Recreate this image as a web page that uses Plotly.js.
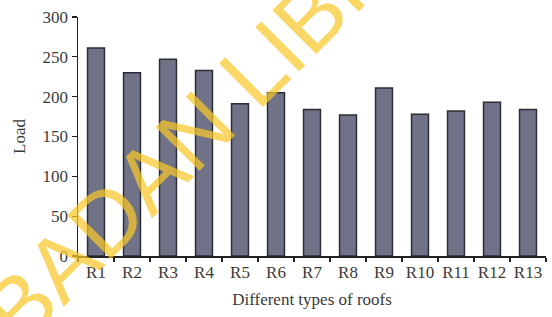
<!DOCTYPE html>
<html>
<head>
<meta charset="utf-8">
<script src="https://cdn.plot.ly/plotly-3.0.1.min.js"></script>
<style>html,body{margin:0;padding:0;background:#fff;}#chart{width:552px;height:317px;}</style>
</head>
<body>
<div id="chart"></div>
<script>
const categories = ["R1","R2","R3","R4","R5","R6","R7","R8","R9","R10","R11","R12","R13"];
const loadValues = [261, 230, 247, 233, 191, 205, 184, 177, 211, 178, 182, 193, 184];
const yTickValues = [0, 50, 100, 150, 200, 250, 300];
const xTitle = "Different types of roofs";
const yTitle = "Load";
const watermark = "IBADAN LIBRARY";

const serif = "Liberation Serif, Times New Roman, serif";
const textColor = "#3a3a3a";

const trace = {
  type: "bar",
  x: categories,
  y: loadValues,
  width: 0.47,
  marker: {color: "#707388", line: {color: "#2c2c36", width: 1.5}},
  hoverinfo: "skip"
};

const layout = {
  width: 552, height: 317,
  margin: {l: 78, r: 6, t: 17, b: 61},
  paper_bgcolor: "#ffffff", plot_bgcolor: "#ffffff",
  showlegend: false,
  xaxis: {
    type: "category",
    range: [-0.5, 12.5],
    showline: true, linecolor: "#222", linewidth: 1.5,
    ticks: "outside", tickson: "boundaries", ticklen: 4, tickcolor: "#222", tickwidth: 1.2,
    tickangle: 0,
    showgrid: false, zeroline: false,
    tickfont: {family: serif, size: 17, color: textColor},
    title: {text: xTitle, font: {family: serif, size: 17, color: textColor}, standoff: 12}
  },
  yaxis: {
    range: [0, 300],
    tickvals: yTickValues,
    showline: true, linecolor: "#222", linewidth: 1.5,
    ticks: "outside", ticklen: 5, tickcolor: "#222", tickwidth: 1.2,
    showgrid: false, zeroline: false,
    tickfont: {family: serif, size: 17, color: textColor},
    title: {text: yTitle, font: {family: serif, size: 17, color: textColor}, standoff: 12}
  },
  annotations: [{
    text: watermark,
    xref: "paper", yref: "paper",
    x: 0.355, y: 0.73,
    xanchor: "center", yanchor: "middle",
    showarrow: false,
    textangle: -45,
    font: {family: "Liberation Sans", size: 90, weight: 400, color: "rgba(248,200,40,0.72)"}
  }]
};

Plotly.newPlot("chart", [trace], layout, {displayModeBar: false, staticPlot: true});
</script>
</body>
</html>
